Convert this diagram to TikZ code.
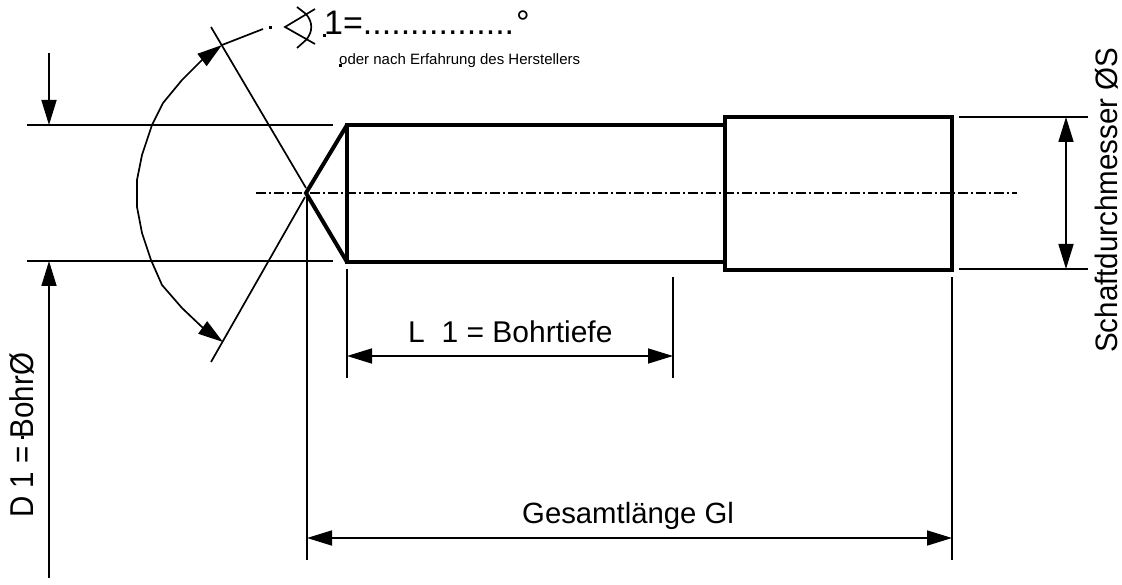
\documentclass[tikz,border=0pt]{standalone}
\usepackage{fontspec}
\setmainfont{Liberation Sans}
\usetikzlibrary{arrows.meta}
\tikzset{
  thinline/.style={line width=1.7pt},
  bodyline/.style={line width=4pt, line join=miter},
  axisline/.style={line width=1.7pt, dash pattern=on 9.5pt off 3pt on 2.5pt off 3pt},
  dimline/.style={line width=1.7pt, {Triangle[length=25pt,width=15pt]}-{Triangle[length=25pt,width=15pt]}},
  endline/.style={line width=1.7pt, -{Triangle[length=25pt,width=15pt]}},
  speck/.style={fill=black, minimum size=3pt, inner sep=0pt},
  label/.style={inner sep=0pt, font=\fontsize{30}{30}\selectfont},
  sidelabel/.style={inner sep=0pt, anchor=base west, rotate=90, font=\fontsize{33}{33}\selectfont}
}

\begin{document}
\begin{tikzpicture}[x=1pt, y=-1pt]
    \useasboundingbox (0,0) rectangle (1122,585);
    % bore and shank
    \draw[bodyline] (347,125) -- (725,125) -- (725,262) -- (347,262) -- cycle;
    \draw[bodyline] (347,125) -- (306,193) -- (347,262);
    \draw[bodyline] (725,117) rectangle (952,270);
    \draw[axisline] (256,193) -- (1017,193);
    % extension lines
    \draw[thinline] (27,125) -- (333,125);
    \draw[thinline] (27,261) -- (333,261);
    \draw[thinline] (959,117) -- (1088,117);
    \draw[thinline] (959,269) -- (1088,269);
    \draw[thinline] (307,197) -- (307,560);
    \draw[thinline] (347,269) -- (347,378);
    \draw[thinline] (673,277) -- (673,378);
    \draw[thinline] (952,277) -- (952,560);
    \draw[thinline] (306,188) -- (211,27);
    \draw[thinline] (305,197) -- (211,362);
    % dimensions
    \draw[endline] (49,53) -- (49,125);
    \draw[endline] (49,578) -- (49,261);
    \draw[dimline] (1066,117) -- (1066,269);
    \draw[dimline] (347,356) -- (673,356);
    \draw[dimline] (307,538) -- (952,538);
    \draw[dimline] (222,45) -- (202,60) -- (182,80) -- (163,103) -- (152,125) -- (142,155) -- (137,180)
                   -- (137,207) -- (142,233) -- (151,260) -- (162,285) -- (182,308) -- (202,327) -- (223,342);
    \draw[thinline] (222,45) -- (263,29);
    % angle symbol
    \draw[thinline] (315,9) -- (285,27) -- (315,44);
    \draw[thinline] (297,7) -- (306,14) .. controls (313,22) and (313,32) .. (306,40) -- (297,48);
    % specks
    \node[speck] (speckA) at (270,28) {};
    \node[speck] (speckB) at (324,36) {};
    \node[speck] (speckC) at (340,66) {};
    \node[speck] (speckD) at (22,437) {};
    % labels
    \node[label, anchor=base west, font=\fontsize{34}{34}\selectfont] (angletext) at (324,35) {1=................\kern2pt °};
    \node[label, anchor=base west, font=\fontsize{15}{15}\selectfont] (maker) at (339,65) {oder nach Erfahrung des Herstellers};
    \node[label, anchor=base west] (depth) at (408,343) {L\ \ 1 = Bohrtiefe};
    \node[label, anchor=base west, font=\fontsize{29.3}{30}\selectfont] (total) at (522,523) {Gesamtlänge Gl};
    \node[sidelabel, font=\fontsize{31}{31}\selectfont] (shank) at (1117,353) {\scalebox{.953}[1]{Schaftdurchmesser ØS}};
    \node[sidelabel] (bore) at (33,518) {\scalebox{.895}[1]{D 1 = BohrØ}};
\end{tikzpicture}
\end{document}
